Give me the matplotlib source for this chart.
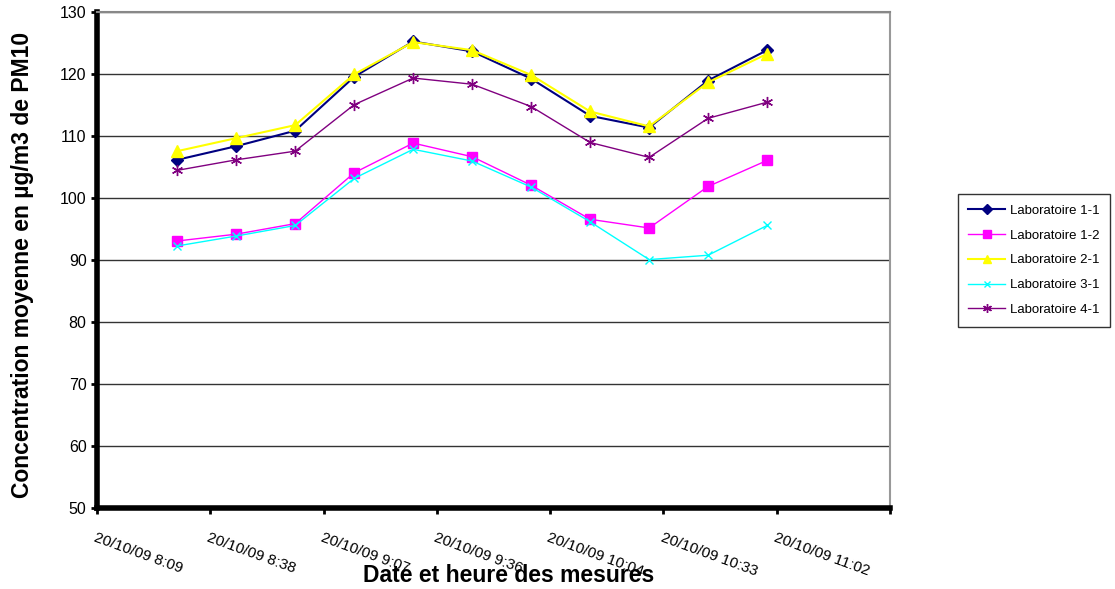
import matplotlib
matplotlib.use("Agg")
import matplotlib.pyplot as plt
import matplotlib.dates as mdates
from datetime import datetime, timedelta

plt.rcParams['font.family'] = ['Liberation Sans', 'DejaVu Sans']

times = ["08:30", "08:45", "09:00", "09:15", "09:30", "09:45",
         "10:00", "10:15", "10:30", "10:45", "11:00"]
lab_1_1 = [106.2, 108.4, 110.9, 119.6, 125.3, 123.7, 119.3, 113.3, 111.4, 119.0, 123.9]
lab_1_2 = [93.1, 94.2, 95.9, 104.1, 108.9, 106.7, 102.1, 96.6, 95.2, 101.9, 106.1]
lab_2_1 = [107.6, 109.7, 111.8, 120.0, 125.2, 123.9, 119.9, 114.0, 111.6, 118.7, 123.3]
lab_3_1 = [92.3, 93.9, 95.6, 103.2, 107.9, 106.0, 101.8, 96.2, 90.1, 90.8, 95.6]
lab_4_1 = [104.5, 106.2, 107.6, 115.1, 119.4, 118.4, 114.8, 109.0, 106.6, 112.9, 115.5]
series_names = ["Laboratoire 1-1", "Laboratoire 1-2", "Laboratoire 2-1",
                "Laboratoire 3-1", "Laboratoire 4-1"]
tick_labels = ["20/10/09 8:09", "20/10/09 8:38", "20/10/09 9:07", "20/10/09 9:36",
               "20/10/09 10:04", "20/10/09 10:33", "20/10/09 11:02", ""]
y_ticks = [50, 60, 70, 80, 90, 100, 110, 120, 130]

day = datetime(2009, 10, 20)
x = [datetime.strptime("2009-10-20 " + t, "%Y-%m-%d %H:%M") for t in times]
tick_pos = [day + timedelta(days=0.34 + 0.02 * i) for i in range(len(tick_labels))]

fig = plt.figure(figsize=(11.15, 5.89), dpi=100)
ax = fig.add_axes([0.087, 0.1375, 0.711, 0.8415])

styles = [
    dict(color="#000080", marker="D", markersize=6, lw=1.5),
    dict(color="#FF00FF", marker="s", markersize=7, lw=1.0),
    dict(color="#FFFF00", marker="^", markersize=8, lw=1.5),
    dict(color="#00FFFF", marker="x", markersize=6, lw=1.0, mew=1.0),
    dict(color="#800080", marker=(6, 2, 0), markersize=8, lw=1.0, mew=1.0),
]
data = [lab_1_1, lab_1_2, lab_2_1, lab_3_1, lab_4_1]
for name, vals, st in zip(series_names, data, styles):
    ax.plot(x, vals, label=name, **st, zorder=3)

ax.set_xlim(tick_pos[0], tick_pos[-1])
ax.set_ylim(50, 130)
ax.set_yticks(y_ticks)
ax.set_xticks(tick_pos)
ax.set_xticklabels(tick_labels, rotation=-20, ha="left", va="top",
                   rotation_mode="anchor", fontsize=11)
ax.tick_params(axis="x", length=4, width=2, pad=12, direction="out", color="black")
ax.tick_params(axis="y", length=4, width=2, labelsize=11.5, direction="out", color="black")
ax.grid(axis="y", color="#333333", lw=1.0, zorder=1)

ax.spines["left"].set_linewidth(4)
ax.spines["left"].set_color("black")
ax.spines["bottom"].set_linewidth(4)
ax.spines["bottom"].set_color("black")
ax.spines["right"].set_color("#999999")
ax.spines["right"].set_linewidth(1.5)
ax.spines["top"].set_color("#888888")
ax.spines["top"].set_linewidth(1.5)

fig.text(0.456, 0.003, "Date et heure des mesures", ha="center", va="bottom",
         fontsize=16.5, fontweight="bold")
fig.text(0.02, 0.55, "Concentration moyenne en µg/m3 de PM10", ha="center", va="center",
         rotation=90, fontsize=16.5, fontweight="bold")

leg = ax.legend(loc="center left", bbox_to_anchor=(0.859, 0.558),
                bbox_transform=fig.transFigure, fontsize=9.5, frameon=True,
                fancybox=False, edgecolor="black", borderpad=0.8,
                borderaxespad=0.0,
                labelspacing=0.95, handlelength=2.8, handletextpad=0.35,
                markerscale=0.8)
leg.get_frame().set_linewidth(1.0)

fig.savefig("out.png", dpi=100)
